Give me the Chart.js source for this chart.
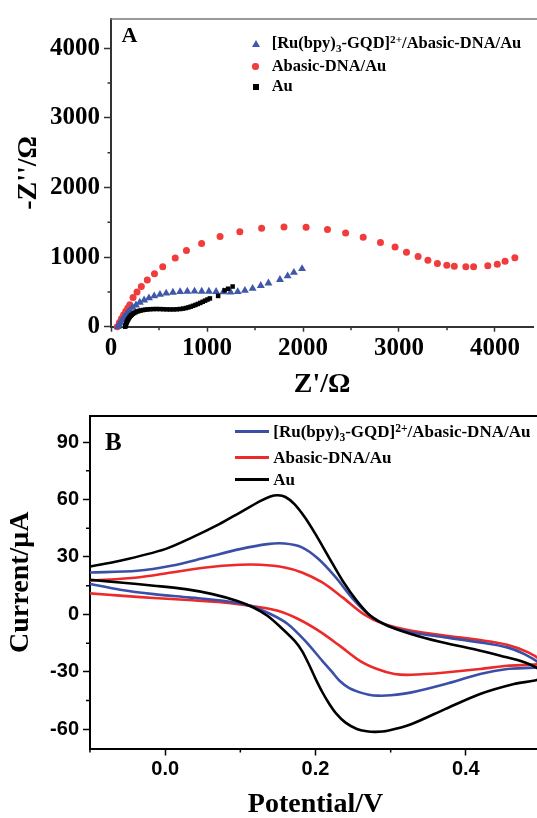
<!DOCTYPE html>
<html><head><meta charset="utf-8">
<script src="https://cdn.jsdelivr.net/npm/chart.js@4.4.0/dist/chart.umd.min.js"></script>
<style>
html,body{margin:0;padding:0;background:#fff;overflow:hidden;width:537px;height:818px;}
#wrap{position:relative;width:537px;height:818px;overflow:hidden;background:#fff;}
canvas{position:absolute;left:0;}
.t{position:absolute;font-family:"Liberation Serif","Times New Roman",serif;font-weight:bold;white-space:nowrap;line-height:1;color:#000;}
.t sub{font-size:0.68em;position:relative;top:0.32em;vertical-align:baseline;line-height:0;}
.t sup{font-size:0.68em;position:relative;top:-0.42em;vertical-align:baseline;line-height:0;}
.mk{position:absolute;}
.ln{position:absolute;height:3px;}
</style>
</head><body>
<div id="wrap">
<canvas id="cA" width="538" height="400" style="top:0;width:538px;height:400px"></canvas>
<canvas id="cB" width="541" height="425" style="top:400px;width:541px;height:425px"></canvas>

<div class="t" style="left:121.5px;top:24.4px;font-size:22px">A</div>
<div class="mk" style="left:252px;top:39.6px;width:0;height:0;border-left:4px solid transparent;border-right:4px solid transparent;border-bottom:7px solid #3f58a8"></div>
<div class="mk" style="left:252.3px;top:63.4px;width:6.5px;height:6.5px;border-radius:50%;background:#f03c3c"></div>
<div class="mk" style="left:252.5px;top:83.7px;width:6px;height:6px;background:#000"></div>
<div class="t" style="left:271.7px;top:35px;font-size:16.5px">[Ru(bpy)<sub>3</sub>-GQD]<sup>2+</sup>/Abasic-DNA/Au</div>
<div class="t" style="left:271.7px;top:58.4px;font-size:16.5px">Abasic-DNA/Au</div>
<div class="t" style="left:271.7px;top:78.4px;font-size:16.5px">Au</div>

<div class="t" style="left:105px;top:428.9px;font-size:25px">B</div>
<div class="ln" style="left:235px;top:430.2px;width:33.5px;background:#3b4fa8"></div>
<div class="ln" style="left:235px;top:456px;width:33.5px;background:#ec2a2a"></div>
<div class="ln" style="left:235px;top:477.8px;width:33.5px;background:#000"></div>
<div class="t" style="left:273.3px;top:423.2px;font-size:17px">[Ru(bpy)<sub>3</sub>-GQD]<sup>2+</sup>/Abasic-DNA/Au</div>
<div class="t" style="left:273.3px;top:449px;font-size:17px">Abasic-DNA/Au</div>
<div class="t" style="left:273.3px;top:470.8px;font-size:17px">Au</div>
</div>

<script>
// ---------- Panel A: Nyquist plot (Z' / Ω vs -Z'' / Ω) ----------
const eisLabels = ["[Ru(bpy)3-GQD]2+/Abasic-DNA/Au", "Abasic-DNA/Au", "Au"];
const eisXTicks = [0, 1000, 2000, 3000, 4000];
const eisYTicks = [0, 1000, 2000, 3000, 4000];

const ruZre = [70, 85, 100, 118, 135, 150, 170, 195, 225, 260, 300, 345, 395, 450, 510, 575, 645, 720, 795, 870, 945, 1020, 1095, 1170, 1245, 1320, 1395, 1475, 1560, 1640, 1760, 1840, 1905, 1990];
const ruZim = [0, 30, 62, 100, 132, 160, 195, 235, 275, 310, 348, 382, 412, 440, 462, 480, 493, 502, 507, 509, 508, 506, 503, 499, 497, 502, 520, 548, 590, 625, 675, 728, 778, 832];

const abZre = [65, 88, 110, 132, 154, 175, 196, 230, 271, 316, 378, 453, 539, 669, 786, 944, 1136, 1342, 1569, 1802, 2032, 2255, 2444, 2627, 2807, 2959, 3078, 3199, 3301, 3400, 3498, 3576, 3696, 3777, 3925, 4024, 4105, 4207];
const abZim = [0, 60, 117, 170, 223, 270, 317, 419, 498, 577, 670, 759, 861, 987, 1094, 1196, 1294, 1364, 1415, 1433, 1429, 1396, 1345, 1284, 1210, 1145, 1071, 1010, 954, 907, 884, 870, 861, 861, 875, 898, 940, 991];

const auZre = [148, 151, 155, 160, 165, 171, 178, 186, 195, 205, 216, 228, 242, 257, 273, 290, 310, 332, 355, 380, 408, 440, 475, 510, 545, 580, 615, 650, 685, 720, 752, 780, 805, 830, 855, 880, 905, 930, 955, 980, 1005, 1030, 1116, 1184, 1219, 1267];
const auZim = [0, 15, 32, 50, 68, 86, 104, 122, 140, 157, 172, 186, 198, 209, 218, 226, 233, 239, 244, 248, 251, 253, 254, 253, 251, 249, 248, 248, 250, 254, 260, 268, 277, 288, 300, 313, 327, 342, 358, 374, 390, 406, 442, 522, 545, 577];

// ---------- Panel B: cyclic voltammograms (Potential / V vs Current / µA) ----------
const cvXTicks = [0.0, 0.2, 0.4];
const cvYTicks = [-60, -30, 0, 30, 60, 90];

const ruE = [-0.1, -0.06, -0.015, 0.031, 0.077, 0.113, 0.140, 0.163, 0.186, 0.209, 0.222, 0.232, 0.245, 0.259, 0.271, 0.283, 0.300, 0.328, 0.373, 0.419, 0.455, 0.5,
             0.5, 0.478, 0.455, 0.419, 0.373, 0.328, 0.296, 0.273, 0.250, 0.227, 0.204, 0.182, 0.159, 0.136, 0.0995, 0.054, 0.008, -0.037, -0.1];
const ruI = [15.9, 12.9, 10.6, 8.9, 7.1, 4.5, 0.2, -5, -13.7, -24.2, -30, -34.6, -38.5, -40.7, -41.9, -42.4, -42.2, -40.7, -36.3, -31.1, -28.5, -27.5,
             -26, -20.7, -17.2, -14.6, -12, -9.4, -5.9, -0.7, 8, 19.3, 28.9, 35, 37, 36.7, 34.1, 29.7, 25.4, 22.8, 21.9];

const abE = [-0.1, -0.06, -0.015, 0.031, 0.077, 0.122, 0.150, 0.177, 0.204, 0.232, 0.259, 0.282, 0.305, 0.328, 0.373, 0.419, 0.455, 0.5,
             0.5, 0.483, 0.455, 0.419, 0.373, 0.328, 0.291, 0.264, 0.236, 0.209, 0.182, 0.159, 0.127, 0.0995, 0.054, 0.008, -0.037, -0.1];
const abI = [11, 9.8, 8.6, 7.5, 6.3, 4, 1.9, -2.4, -8.5, -16.3, -24.2, -28.5, -31.1, -31.5, -30.3, -28.5, -26.8, -25.8,
             -24, -19.8, -15.8, -13.4, -11.1, -8.5, -5, 0.2, 8.9, 16.7, 21.9, 24.5, 25.9, 25.9, 24.5, 21.9, 19.3, 17.6];

const auE = [-0.1, -0.06, -0.015, 0.027, 0.063, 0.095, 0.118, 0.136, 0.154, 0.172, 0.182, 0.191, 0.200, 0.209, 0.218, 0.227, 0.240, 0.255, 0.268, 0.280, 0.296, 0.328, 0.373, 0.419, 0.464, 0.5,
             0.5, 0.478, 0.446, 0.410, 0.364, 0.328, 0.296, 0.273, 0.255, 0.236, 0.218, 0.200, 0.186, 0.172, 0.160, 0.150, 0.140, 0.127, 0.0995, 0.072, 0.036, 0.0, -0.06, -0.1];
const auI = [18.1, 16.7, 15.0, 13.2, 10.6, 7.1, 3.5, -0.7, -6.8, -13.7, -19, -25.9, -33.5, -40.5, -46.5, -51.5, -56.5, -59.8, -61, -61.3, -60.7, -57.2, -49.3, -41.5, -36.3, -33.5,
             -29.5, -25, -21.6, -18.1, -14.1, -10.3, -5.9, -0.7, 7.1, 17.6, 29.7, 41.9, 50.6, 57.6, 61.3, 62.2, 61.6, 59.3, 53.2, 47.1, 40.2, 34.1, 28, 25];

const pts = (xs, ys) => xs.map((x, i) => ({x: x, y: ys[i]}));

const decor = {
  id: 'decor',
  afterDraw(chart, args, o) {
    const {ctx, chartArea: a} = chart;
    const xs = chart.scales.x, ys = chart.scales.y;
    ctx.save();
    ctx.strokeStyle = o.color; ctx.lineWidth = o.width;
    ctx.beginPath();
    (o.xMinor || []).forEach(v => { const p = xs.getPixelForValue(v); ctx.moveTo(p, a.bottom); ctx.lineTo(p, a.bottom + o.len); });
    (o.yMinor || []).forEach(v => { const p = ys.getPixelForValue(v); ctx.moveTo(a.left, p); ctx.lineTo(a.left - o.len, p); });
    ctx.stroke();
    ctx.strokeStyle = o.topColor; ctx.lineWidth = o.topWidth;
    ctx.beginPath(); ctx.moveTo(a.left - 1, a.top); ctx.lineTo(chart.width, a.top); ctx.stroke();
    ctx.restore();
  }
};

const serif = '"Liberation Serif","Times New Roman",serif';
const sans = '"Liberation Sans",Arial,sans-serif';

function axisCommon(color, tickLen, bw) {
  return {
    grid: {display: true, drawOnChartArea: false, drawTicks: true, tickLength: tickLen, tickColor: color, tickWidth: 1.5, color: color},
    border: {display: true, color: color, width: bw}
  };
}

// Panel A
new Chart(document.getElementById('cA'), {
  type: 'scatter',
  data: {
    datasets: [
      {label: eisLabels[2], data: pts(auZre, auZim), pointStyle: 'rect', pointRadius: 3.2, backgroundColor: '#000', borderColor: '#000', borderWidth: 0, order: 0, clip: false},
      {label: eisLabels[0], data: pts(ruZre, ruZim), pointStyle: 'triangle', pointRadius: 4.6, backgroundColor: '#3f58a8', borderColor: '#3f58a8', borderWidth: 0, order: 1, clip: false},
      {label: eisLabels[1], data: pts(abZre, abZim), pointStyle: 'circle', pointRadius: 3.5, backgroundColor: '#f03c3c', borderColor: '#f03c3c', borderWidth: 0, order: 2, clip: false}
    ]
  },
  options: {
    responsive: false, animation: false, devicePixelRatio: 1,
    layout: {padding: {top: 10, left: 0, right: 0, bottom: 0}},
    plugins: {legend: {display: false}, tooltip: {enabled: false},
      decor: {color: '#333', width: 1.5, len: 3.5, xMinor: [500, 1500, 2500, 3500], yMinor: [500, 1500, 2500, 3500], topColor: '#777', topWidth: 1.5}},
    scales: {
      x: Object.assign(axisCommon('#333', 5, 2), {
        type: 'linear', min: 0, max: 4400,
        afterBuildTicks: s => { s.ticks = eisXTicks.map(v => ({value: v})); },
        afterFit: s => { s.height = 73.3; },
        ticks: {autoSkip: false, maxRotation: 0, minRotation: 0, padding: 2.3, color: '#000', font: {family: serif, size: 25, weight: 'bold'}, callback: v => String(v)},
        title: {display: true, text: "Z'/Ω", color: '#000', font: {family: serif, size: 28, weight: 'bold', lineHeight: 1}, padding: {top: 0, bottom: 1}}
      }),
      y: Object.assign(axisCommon('#333', 7, 2), {
        type: 'linear', min: 0, max: 4420,
        afterBuildTicks: s => { s.ticks = eisYTicks.map(v => ({value: v})); },
        afterFit: s => { s.width = 111; },
        ticks: {autoSkip: false, padding: 4, color: '#000', font: {family: serif, size: 25, weight: 'bold'}, callback: v => String(v)},
        title: {display: true, text: "-Z''/Ω", color: '#000', font: {family: serif, size: 28, weight: 'bold', lineHeight: 1}, padding: {top: 15, bottom: 0}}
      })
    }
  },
  plugins: [decor]
});

// Panel B
const lineDs = (label, xs, ys, color, order) => ({label, data: pts(xs, ys), showLine: true, pointRadius: 0, borderColor: color, backgroundColor: color, borderWidth: 2.6, tension: 0.3, order});
new Chart(document.getElementById('cB'), {
  type: 'scatter',
  data: {
    datasets: [
      lineDs(eisLabels[2], auE, auI, '#000', 0),
      lineDs(eisLabels[0], ruE, ruI, '#3b4fa8', 1),
      lineDs(eisLabels[1], abE, abI, '#ec2a2a', 2)
    ]
  },
  options: {
    responsive: false, animation: false, devicePixelRatio: 1,
    layout: {padding: {top: 15.7, left: 0, right: 0, bottom: 0}},
    plugins: {legend: {display: false}, tooltip: {enabled: false},
      decor: {color: '#000', width: 1.5, len: 4, xMinor: [-0.1, 0.1, 0.3, 0.5], yMinor: [-45, -15, 15, 45, 75], topColor: '#000', topWidth: 2}},
    scales: {
      x: Object.assign(axisCommon('#000', 7, 2), {
        type: 'linear', min: -0.1, max: 0.5,
        afterBuildTicks: s => { s.ticks = cvXTicks.map(v => ({value: v})); },
        afterFit: s => { s.height = 76.5; },
        ticks: {autoSkip: false, maxRotation: 0, minRotation: 0, padding: 1.8, color: '#000', font: {family: sans, size: 20, weight: 'bold'}, callback: v => Number(v).toFixed(1)},
        title: {display: true, text: 'Potential/V', color: '#000', font: {family: serif, size: 28, weight: 'bold', lineHeight: 1}, padding: {top: 0, bottom: 6}}
      }),
      y: Object.assign(axisCommon('#000', 7, 2), {
        type: 'linear', min: -70, max: 103.6,
        afterBuildTicks: s => { s.ticks = cvYTicks.map(v => ({value: v})); },
        afterFit: s => { s.width = 90; },
        ticks: {autoSkip: false, padding: 4, color: '#000', font: {family: sans, size: 20, weight: 'bold'}, callback: v => String(v)},
        title: {display: true, text: 'Current/μA', color: '#000', font: {family: serif, size: 28, weight: 'bold', lineHeight: 1}, padding: {top: 6.5, bottom: 0}}
      })
    }
  },
  plugins: [decor]
});
</script>
</body></html>
